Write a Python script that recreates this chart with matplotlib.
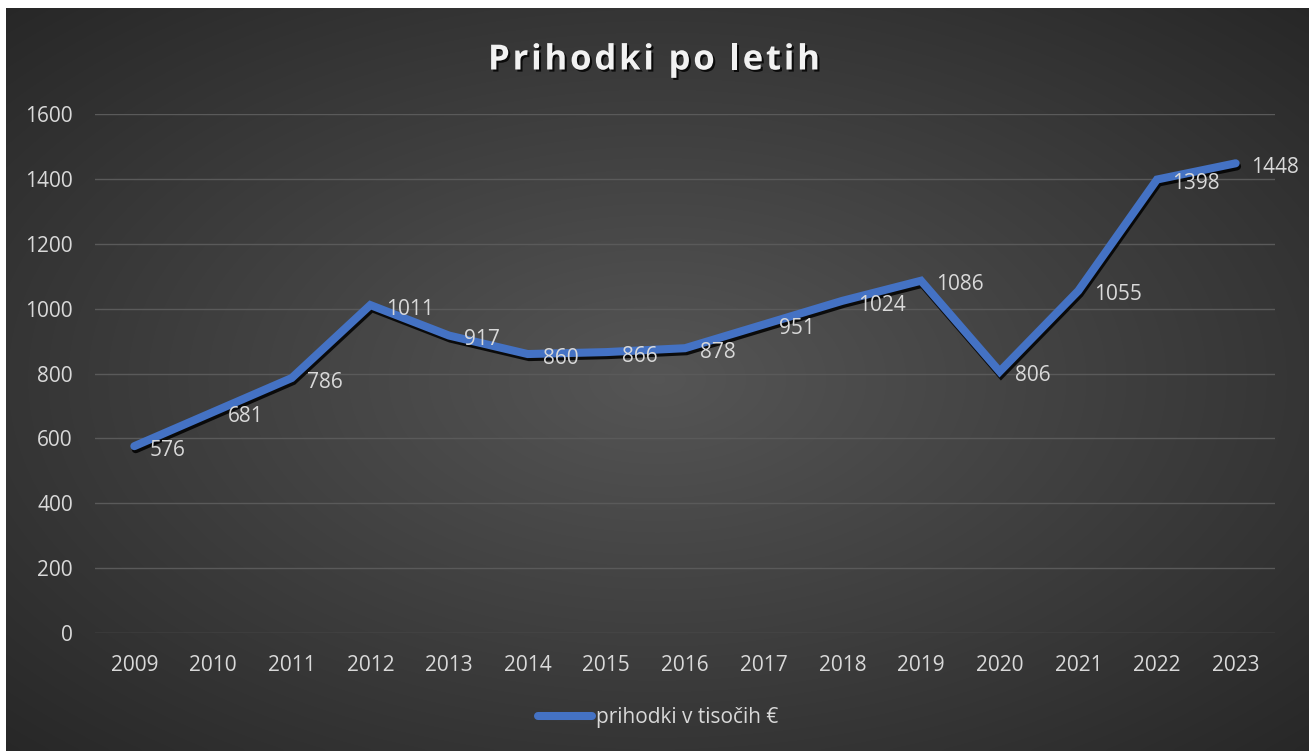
import matplotlib
matplotlib.use("Agg")

import numpy as np
import matplotlib.pyplot as plt
import matplotlib.patheffects as pe
from matplotlib.font_manager import FontProperties, findfont
from matplotlib.ft2font import FT2Font

# data
years = ["2009", "2010", "2011", "2012", "2013", "2014", "2015", "2016",
         "2017", "2018", "2019", "2020", "2021", "2022", "2023"]
revenue = [576, 681, 786, 1011, 917, 860, 866, 878, 951, 1024, 1086, 806, 1055, 1398, 1448]
y_ticks = [0, 200, 400, 600, 800, 1000, 1200, 1400, 1600]
series_name = "prihodki v tisočih €"
title = "Prihodki po letih"

W, H = 1309, 751
DPI = 100
fig = plt.figure(figsize=(W / DPI, H / DPI), dpi=DPI)
fig.patch.set_facecolor("white")

# radial gradient background (dark area starts a few px in from top/left)
bx0, by0 = 6, 8
bg = fig.add_axes([bx0 / W, 0, 1 - bx0 / W, 1 - by0 / H])
bg.set_axis_off()
gx, gy = np.meshgrid(np.linspace(-1, 1, 400), np.linspace(-1, 1, 240))
r = np.sqrt(gx ** 2 + gy ** 2) / np.sqrt(2)
val = 0.335 - 0.18 * r
bg.imshow(np.dstack([val, val, val]), aspect="auto", extent=[0, 1, 0, 1],
          interpolation="bicubic")
bg.set_xlim(0, 1)
bg.set_ylim(0, 1)

# plot area
x0, x1 = 95, 1275
ytop, ybot = 114, 633
ax = fig.add_axes([x0 / W, 1 - ybot / H, (x1 - x0) / W, (ybot - ytop) / H])
ax.patch.set_alpha(0)
x = np.arange(len(years))
ax.set_xlim(-0.5, len(years) - 0.5)
ax.set_ylim(0, 1600)

txt = "#d9d9d9"
fs = 15
for s in ax.spines.values():
    s.set_visible(False)
ax.set_yticks(y_ticks)
ax.set_xticks(x)
ax.set_xticklabels(years)
ax.tick_params(length=0, colors=txt, labelsize=fs)
ax.tick_params(axis="y", pad=16)
ax.tick_params(axis="x", pad=16)
for lab in ax.get_xticklabels() + ax.get_yticklabels():
    lab.set_fontfamily("Open Sans")
ax.grid(axis="y", color="#5a5a5a", linewidth=1)
ax.set_axisbelow(True)

line, = ax.plot(x, revenue, color="#4472C4", linewidth=5.8,
                solid_capstyle="round", solid_joinstyle="miter", label=series_name,
                path_effects=[pe.SimpleLineShadow(offset=(1, -2.2), shadow_color="black", alpha=0.85),
                              pe.Normal()])

for xi, v in zip(x, revenue):
    ax.annotate(str(v), (xi, v), xytext=(11, -3), textcoords="offset points",
                ha="left", va="center", color=txt, fontsize=fs,
                fontfamily="Open Sans")

# title with letter spacing, drawn glyph by glyph
tsize = 25
tprop = FontProperties(family="Open Sans", weight="bold", size=tsize)
ft = FT2Font(findfont(tprop))
ft.set_size(tsize, DPI)
adv = [ft.load_char(ord(c)).linearHoriAdvance / 65536 for c in title]
target_w = 332
gap = (target_w - sum(adv)) / (len(title) - 1)
cx = 654 - target_w / 2
shadow = [pe.withSimplePatchShadow(offset=(1.5, -1.5), shadow_rgbFace="black", alpha=0.8)]
for c, a in zip(title, adv):
    if c != " ":
        fig.text(cx / W, 1 - 56 / H, c, ha="left", va="center_baseline", color="#f2f2f2",
                 fontproperties=tprop, path_effects=shadow)
    cx += a + gap

leg = fig.legend(handles=[line], labels=[series_name], loc="center",
                 bbox_to_anchor=(658 / W, 1 - 718 / H), frameon=False,
                 handlelength=2.6, handletextpad=0.2,
                 prop={"family": "Open Sans", "size": fs})
for t in leg.get_texts():
    t.set_color(txt)
leg.get_lines()[0].set_path_effects([pe.Normal()])

fig.savefig("out.png", dpi=DPI, facecolor=fig.get_facecolor())
